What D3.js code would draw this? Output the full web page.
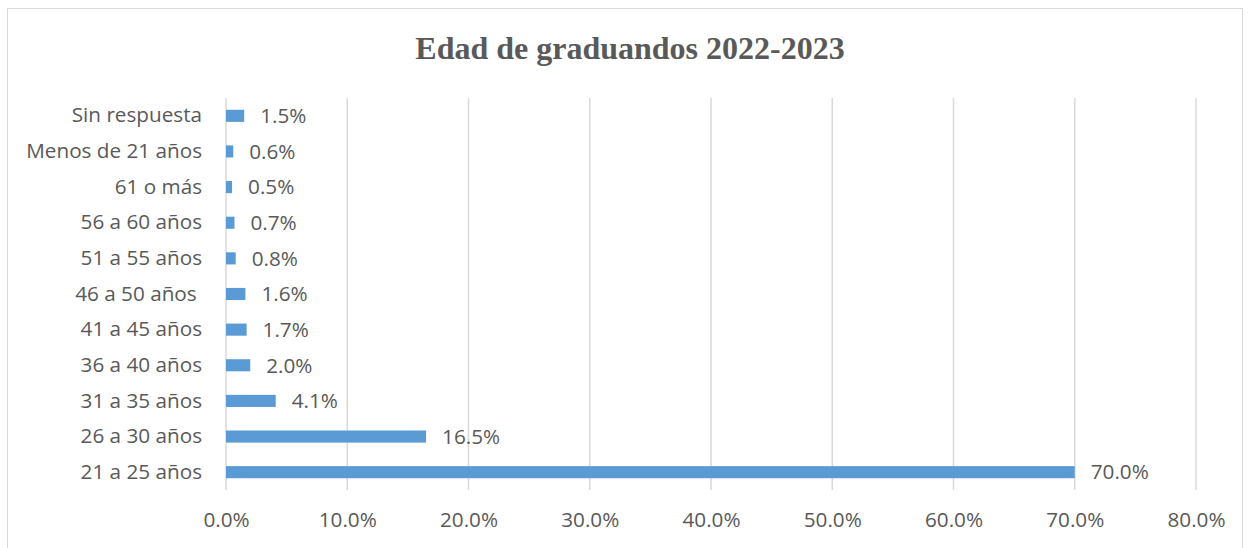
<!DOCTYPE html>
<html>
<head>
<meta charset="utf-8">
<script src="https://cdn.jsdelivr.net/npm/d3@7"></script>
<style>
  body { margin: 0; background: #fff; }
  svg text { font-family: "Open Sans", Lato, sans-serif; fill: #595959; }
</style>
</head>
<body>
<svg id="chart" width="1250" height="548"></svg>
<script>
// categories from top to bottom, as in the picture
var categories = [
  'Sin respuesta', 'Menos de 21 años', '61 o más', '56 a 60 años',
  '51 a 55 años', '46 a 50 años\u00a0', '41 a 45 años', '36 a 40 años',
  '31 a 35 años', '26 a 30 años', '21 a 25 años'
];
var values = [1.5, 0.6, 0.5, 0.7, 0.8, 1.6, 1.7, 2.0, 4.1, 16.5, 70.0];
var tickValues = [0, 10, 20, 30, 40, 50, 60, 70, 80];
var title = 'Edad de graduandos 2022-2023';

var fontSize = '20.7px';
var svg = d3.select('#chart');

// chart frame
svg.append('rect')
  .attr('x', 7.5).attr('y', 8.5)
  .attr('width', 1235).attr('height', 550)
  .attr('fill', '#fff')
  .attr('stroke', '#d9d9d9')
  .attr('stroke-width', 1);

svg.append('text')
  .attr('x', 630).attr('y', 59)
  .attr('text-anchor', 'middle')
  .style('font-family', '"Liberation Serif", "DejaVu Serif", serif')
  .style('font-weight', 'bold')
  .style('font-size', '32px')
  .text(title);

var xScale = d3.scaleLinear().domain([0, 80]).range([226, 1196]);
var yScale = d3.scaleBand().domain(categories).range([98, 490]).paddingInner(0.66).paddingOuter(0.33);

var data = categories.map(function(c, i) {
  return { key: c, value: values[i] };
});

// gridlines
svg.append('g').selectAll('line')
  .data(tickValues)
  .enter().append('line')
  .attr('x1', function(d) { return xScale(d); })
  .attr('x2', function(d) { return xScale(d); })
  .attr('y1', 98).attr('y2', 490)
  .attr('stroke', '#d9d9d9')
  .attr('stroke-width', 1.5);

// x axis labels
var xAxis = d3.axisBottom(xScale)
  .tickValues(tickValues)
  .tickSize(0)
  .tickPadding(0)
  .tickFormat(function(d) { return d.toFixed(1) + '%'; });

var gx = svg.append('g').attr('transform', 'translate(0,511)').call(xAxis);
gx.select('.domain').remove();
gx.selectAll('text').style('font-size', fontSize).style('font-family', null).attr('fill', '#595959').attr('dy', '0.78em');

// y axis labels
var yAxis = d3.axisLeft(yScale).tickSize(0).tickPadding(24);
var gy = svg.append('g').attr('transform', 'translate(226,0)').call(yAxis);
gy.select('.domain').remove();
gy.selectAll('text').style('font-size', fontSize).attr('fill', '#595959')
  .style('white-space', 'pre');

// bars
svg.append('g').selectAll('rect.bar')
  .data(data)
  .enter().append('rect')
  .attr('class', 'bar')
  .attr('x', xScale(0))
  .attr('y', function(d) { return yScale(d.key); })
  .attr('width', function(d) { return xScale(d.value) - xScale(0); })
  .attr('height', yScale.bandwidth())
  .attr('fill', '#5b9bd5');

// value labels
svg.append('g').selectAll('text')
  .data(data)
  .enter().append('text')
  .attr('x', function(d) { return xScale(d.value) + 16; })
  .attr('y', function(d) { return yScale(d.key) + yScale.bandwidth() / 2; })
  .attr('dy', '0.35em')
  .style('font-size', fontSize)
  .text(function(d) { return d.value.toFixed(1) + '%'; });
</script>
</body>
</html>
